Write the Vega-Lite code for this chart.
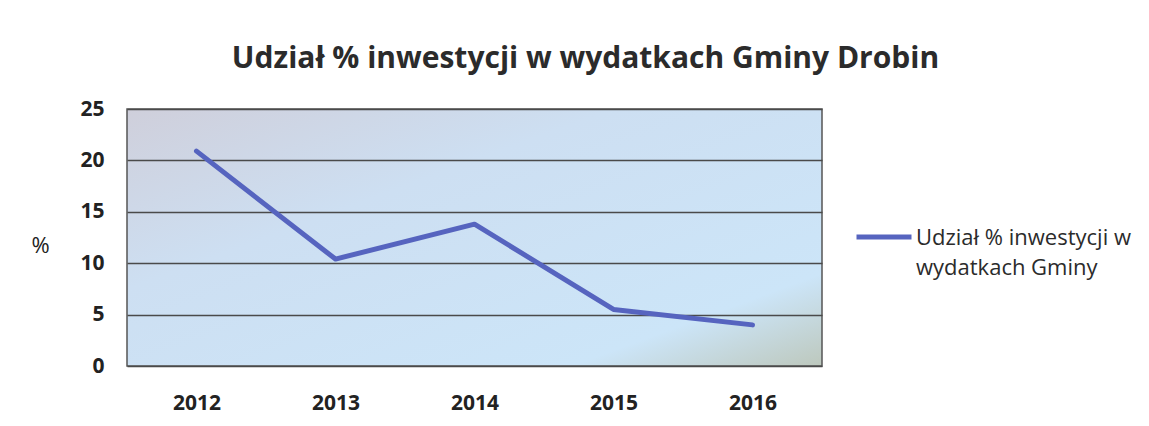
{
  "$schema": "https://vega.github.io/schema/vega-lite/v6.json",
  "width": 695,
  "height": 257,
  "autosize": "none",
  "padding": {"left": 127, "top": 109, "right": 327, "bottom": 60},
  "background": "white",
  "data": {
    "values": [
      {"rok": "2012", "udzial": 20.9, "seria": "Udział % inwestycji w wydatkach Gminy"},
      {"rok": "2013", "udzial": 10.4, "seria": "Udział % inwestycji w wydatkach Gminy"},
      {"rok": "2014", "udzial": 13.8, "seria": "Udział % inwestycji w wydatkach Gminy"},
      {"rok": "2015", "udzial": 5.5, "seria": "Udział % inwestycji w wydatkach Gminy"},
      {"rok": "2016", "udzial": 4.0, "seria": "Udział % inwestycji w wydatkach Gminy"}
    ]
  },
  "title": {
    "text": "Udział % inwestycji w wydatkach Gminy Drobin",
    "font": "Open Sans",
    "fontSize": 30,
    "fontWeight": "bold",
    "color": "#2b2b2b",
    "anchor": "middle",
    "frame": "group",
    "dx": 111,
    "offset": 24
  },
  "mark": {"type": "line", "strokeWidth": 5, "strokeCap": "round", "strokeJoin": "round"},
  "encoding": {
    "x": {
      "field": "rok",
      "type": "ordinal",
      "axis": {
        "title": null,
        "labelAngle": 0,
        "labelFont": "Open Sans",
        "labelFontSize": 21,
        "labelFontWeight": "bold",
        "labelColor": "#222",
        "labelPadding": 26,
        "ticks": false,
        "domain": false,
        "grid": false
      }
    },
    "y": {
      "field": "udzial",
      "type": "quantitative",
      "scale": {"domain": [0, 25]},
      "axis": {
        "values": [0, 5, 10, 15, 20, 25],
        "title": "%",
        "titleAngle": 0,
        "titleFont": "Open Sans",
        "titleFontSize": 22,
        "titleFontWeight": "normal",
        "titleColor": "#222",
        "titleX": -87,
        "titleY": 136,
        "titleAlign": "center",
        "titleBaseline": "middle",
        "labelFont": "Open Sans",
        "labelFontSize": 21,
        "labelFontWeight": "bold",
        "labelColor": "#222",
        "labelPadding": 23,
        "ticks": false,
        "domain": false,
        "grid": true,
        "gridColor": "#4a4a4a",
        "gridWidth": 1.5
      }
    },
    "color": {
      "field": "seria",
      "type": "nominal",
      "scale": {"range": ["#5664bf"]},
      "legend": {
        "title": null,
        "orient": "none",
        "legendX": 727,
        "legendY": 98,
        "symbolType": "stroke",
        "symbolSize": 3025,
        "symbolStrokeWidth": 5,
        "labelFont": "Open Sans",
        "labelFontSize": 22,
        "labelColor": "#2b2b2b",
        "labelLimit": 300,
        "labelOffset": 2,
        "labelBaseline": "top",
        "labelExpr": "['Udział % inwestycji w', 'wydatkach Gminy']",
        "labelLineHeight": 30,
        "encode": {"labels": {"update": {"dy": {"value": -9}, "lineHeight": {"value": 30}}}}
      }
    }
  },
  "config": {
    "view": {
      "stroke": "#555",
      "strokeWidth": 1.5,
      "fill": {
        "gradient": "linear",
        "x1": 0, "y1": 0, "x2": 1, "y2": 1,
        "stops": [
          {"offset": 0, "color": "#cfcfdb"},
          {"offset": 0.35, "color": "#cddff2"},
          {"offset": 0.82, "color": "#cce5f8"},
          {"offset": 1, "color": "#bdc8bd"}
        ]
      }
    }
  }
}
